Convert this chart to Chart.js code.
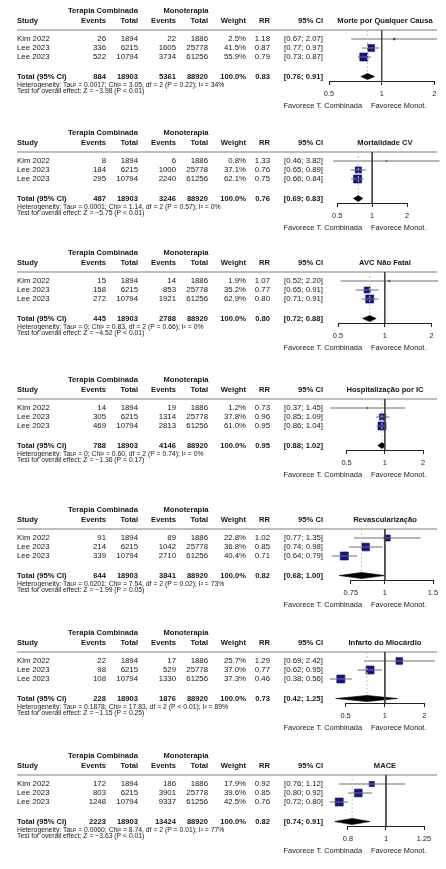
<!DOCTYPE html>
<html>
<head>
<meta charset="utf-8">
<script src="https://cdn.jsdelivr.net/npm/chart.js@4.4.1/dist/chart.umd.min.js"></script>
<style>
  html, body { margin: 0; padding: 0; background: #fff; }
  #page { position: relative; width: 446px; height: 869px; overflow: hidden; }
  canvas { position: absolute; left: 0; }
</style>
</head>
<body>
<div id="page"></div>
<script>
// ---- study table ----
const studies = ['Kim 2022', 'Lee 2023', 'Lee 2023'];
const comboTotals = [1894, 6215, 10794];
const monoTotals = [1886, 25778, 61256];
const groupLabels = ['Terapia Combinada', 'Monoterapia'];
const columnLabels = ['Study', 'Events', 'Total', 'Events', 'Total', 'Weight', 'RR', '95% CI'];
const totalLabel = 'Total (95% CI)';
const favourLabels = ['Favorece T. Combinada', 'Favorece Monot.'];

// ---- outcomes ----
const outcomes = ['Morte por Qualquer Causa', 'Mortalidade CV', 'AVC Não Fatal', 'Hospitalização por IC',
                  'Revascularização', 'Infarto do Miocárdio', 'MACE'];
const comboEvents = [[26, 336, 522], [8, 184, 295], [15, 158, 272], [14, 305, 469],
                     [91, 214, 339], [22, 98, 108], [172, 803, 1248]];
const monoEvents = [[22, 1605, 3734], [6, 1000, 2240], [14, 853, 1921], [19, 1314, 2813],
                    [89, 1042, 2710], [17, 529, 1330], [186, 3901, 9337]];
const weights = [[2.5, 41.5, 55.9], [0.8, 37.1, 62.1], [1.9, 35.2, 62.9], [1.2, 37.8, 61.0],
                 [22.8, 36.8, 40.4], [25.7, 37.0, 37.3], [17.9, 39.6, 42.5]];
const riskRatios = [[1.18, 0.87, 0.79], [1.33, 0.76, 0.75], [1.07, 0.77, 0.80], [0.73, 0.96, 0.95],
                    [1.02, 0.85, 0.71], [1.29, 0.77, 0.46], [0.92, 0.85, 0.76]];
const ciLower = [[0.67, 0.77, 0.73], [0.46, 0.65, 0.66], [0.52, 0.65, 0.71], [0.37, 0.85, 0.86],
                 [0.77, 0.74, 0.64], [0.69, 0.62, 0.38], [0.76, 0.80, 0.72]];
const ciUpper = [[2.07, 0.97, 0.87], [3.82, 0.89, 0.84], [2.20, 0.91, 0.91], [1.45, 1.09, 1.04],
                 [1.35, 0.98, 0.79], [2.42, 0.95, 0.56], [1.12, 0.92, 0.80]];
const pooledRR = [0.83, 0.76, 0.80, 0.95, 0.82, 0.73, 0.82];
const pooledLower = [0.76, 0.69, 0.72, 0.88, 0.68, 0.42, 0.74];
const pooledUpper = [0.91, 0.83, 0.88, 1.02, 1.00, 1.25, 0.91];
const tau2 = ['0.0017', '0.0001', '0', '0', '0.0201', '0.1878', '0.0060'];
const chi2 = ['3.05', '1.14', '0.83', '0.60', '7.54', '17.83', '8.74'];
const hetP = ['= 0.22', '= 0.57', '= 0.66', '= 0.74', '= 0.02', '< 0.01', '= 0.01'];
const i2 = [34, 0, 0, 0, 73, 89, 77];
const zValues = ['3.98', '5.75', '4.52', '1.36', '1.99', '1.15', '3.63'];
const zP = ['< 0.01', '< 0.01', '< 0.01', '= 0.17', '= 0.05', '= 0.25', '< 0.01'];
const axisTicks = [[0.5, 1, 2], [0.5, 1, 2], [0.5, 1, 2], [0.5, 1, 2],
                   [0.75, 1, 1.5], [0.5, 1, 2], [0.8, 1, 1.25]];

// ---- layout ----
const FONT = "'Liberation Sans', Arial, Helvetica, sans-serif";
const W = 446, PANEL_H = 112;
const panelTop = [1, 123, 243, 370, 500, 623, 746];
const plotSpan = [[329, 437], [333, 441], [338, 438], [330, 423], [332, 433], [330, 435], [330, 424]];
const AREA_TOP = 29, AREA_BOTTOM = 80, AXIS_H = 15;
const ROW_PX = 9;
const Y_MAX = (AREA_BOTTOM - AREA_TOP) / ROW_PX;
const ROW = { group: -2.11, head: -1.0, total: 5.17, het: 6.11, test: 6.78, favour: 8.44 };
const COL = { study: 17, evC: 106, totC: 138, evM: 176, totM: 208, weight: 246, rr: 270, ci: 323,
              groupC: 103, groupM: 186, title: 385, favL: 362, favR: 371, ruleL: 17, ruleR: 437 };
const sum = a => a.reduce((s, v) => s + v, 0);

function text(ctx, s, x, y, align, bold, size, color) {
  ctx.font = (bold ? 'bold ' : '') + size + 'px ' + FONT;
  ctx.textAlign = align;
  ctx.textBaseline = 'middle';
  ctx.fillStyle = color || '#161616';
  ctx.fillText(s, x, y);
}
const ci = (lo, hi) => '[' + lo.toFixed(2) + '; ' + hi.toFixed(2) + ']';

// table columns, header rule and the bottom axis line of each forest plot
const forestTable = {
  id: 'forestTable',
  beforeDatasetsDraw(chart) {
    const ctx = chart.ctx, ys = chart.scales.y;
    ctx.save();
    ctx.strokeStyle = '#a8a8a8';
    ctx.lineWidth = 1.6;
    ctx.beginPath();
    const yr = ys.getPixelForValue(0);
    ctx.moveTo(COL.ruleL, yr); ctx.lineTo(COL.ruleR, yr);
    ctx.stroke();
    ctx.restore();
  },
  afterDraw(chart, args, opts) {
    const p = opts.panel, ctx = chart.ctx;
    const ys = chart.scales.y, xs = chart.scales.x;
    const y = v => ys.getPixelForValue(v);
    ctx.save();
    // axis line between the outer ticks
    const t = axisTicks[p];
    ctx.strokeStyle = '#222';
    ctx.lineWidth = 1;
    ctx.beginPath();
    ctx.moveTo(xs.getPixelForValue(t[0]), chart.chartArea.bottom + 0.5);
    ctx.lineTo(xs.getPixelForValue(t[t.length - 1]), chart.chartArea.bottom + 0.5);
    ctx.stroke();

    const HS = 7.6, BS = 7.8, FS = 6.8;
    text(ctx, groupLabels[0], COL.groupC, y(ROW.group), 'center', true, HS);
    text(ctx, groupLabels[1], COL.groupM, y(ROW.group), 'center', true, HS);
    const hx = [COL.study, COL.evC, COL.totC, COL.evM, COL.totM, COL.weight, COL.rr, COL.ci];
    columnLabels.forEach((s, i) => text(ctx, s, hx[i], y(ROW.head), i === 0 ? 'left' : 'right', true, HS));
    text(ctx, outcomes[p], COL.title, y(ROW.head), 'center', true, HS);

    studies.forEach((s, i) => {
      const yy = y(i + 1);
      text(ctx, s, COL.study, yy, 'left', false, BS);
      text(ctx, String(comboEvents[p][i]), COL.evC, yy, 'right', false, BS);
      text(ctx, String(comboTotals[i]), COL.totC, yy, 'right', false, BS);
      text(ctx, String(monoEvents[p][i]), COL.evM, yy, 'right', false, BS);
      text(ctx, String(monoTotals[i]), COL.totM, yy, 'right', false, BS);
      text(ctx, weights[p][i].toFixed(1) + '%', COL.weight, yy, 'right', false, BS);
      text(ctx, riskRatios[p][i].toFixed(2), COL.rr, yy, 'right', false, BS);
      text(ctx, ci(ciLower[p][i], ciUpper[p][i]), COL.ci, yy, 'right', false, BS);
    });

    const yt = y(ROW.total);
    text(ctx, totalLabel, COL.study, yt, 'left', true, HS);
    text(ctx, String(sum(comboEvents[p])), COL.evC, yt, 'right', true, HS);
    text(ctx, String(sum(comboTotals)), COL.totC, yt, 'right', true, HS);
    text(ctx, String(sum(monoEvents[p])), COL.evM, yt, 'right', true, HS);
    text(ctx, String(sum(monoTotals)), COL.totM, yt, 'right', true, HS);
    text(ctx, '100.0%', COL.weight, yt, 'right', true, HS);
    text(ctx, pooledRR[p].toFixed(2), COL.rr, yt, 'right', true, HS);
    text(ctx, ci(pooledLower[p], pooledUpper[p]), COL.ci, yt, 'right', true, HS);

    text(ctx, 'Heterogeneity: Tau\u00b2 = ' + tau2[p] + '; Chi\u00b2 = ' + chi2[p] + ', df = 2 (P ' + hetP[p] +
         '); I\u00b2 = ' + i2[p] + '%', COL.study, y(ROW.het), 'left', false, FS);
    text(ctx, 'Test for overall effect: Z = \u2212' + zValues[p] + ' (P ' + zP[p] + ')',
         COL.study, y(ROW.test), 'left', false, FS);

    text(ctx, favourLabels[0], COL.favL, y(ROW.favour), 'right', false, 7.4);
    text(ctx, favourLabels[1], COL.favR, y(ROW.favour), 'left', false, 7.4);
    ctx.restore();
  }
};

const page = document.getElementById('page');

outcomes.forEach((title, p) => {
  const canvas = document.createElement('canvas');
  canvas.width = W; canvas.height = PANEL_H;
  canvas.style.top = panelTop[p] + 'px';
  canvas.style.width = W + 'px';
  canvas.style.height = PANEL_H + 'px';
  page.appendChild(canvas);

  const ticks = axisTicks[p];
  const xMin = Math.min(...ciLower[p], pooledLower[p], ...ticks);
  const xMax = Math.max(...ciUpper[p], pooledUpper[p], ...ticks);
  const wMax = Math.max(...weights[p]);
  const T = ROW.total, H = 0.34;

  const ciSets = studies.map((s, i) => ({
    type: 'line',
    data: [{ x: ciLower[p][i], y: i + 1 }, { x: ciUpper[p][i], y: i + 1 }],
    borderColor: '#6e6e6e', borderWidth: 1, pointRadius: 0, fill: false
  }));

  new Chart(canvas, {
    type: 'scatter',
    data: {
      datasets: [
        { // line of no effect
          type: 'line',
          data: [{ x: 1, y: 0 }, { x: 1, y: Y_MAX }],
          borderColor: '#444', borderWidth: 1, pointRadius: 0, fill: false
        },
        { // pooled estimate
          type: 'line',
          data: [{ x: pooledRR[p], y: 0 }, { x: pooledRR[p], y: T - H }],
          borderColor: '#c4c4c4', borderWidth: 1, borderDash: [2, 2], pointRadius: 0, fill: false
        },
        ...ciSets,
        { // study estimates, square area proportional to weight
          type: 'scatter',
          data: riskRatios[p].map((v, i) => ({ x: v, y: i + 1 })),
          pointStyle: 'rect',
          pointRadius: c => 8 * Math.sqrt(weights[p][c.dataIndex] / wMax) / Math.SQRT2,
          backgroundColor: '#16168a',
          borderColor: '#0b0b5a',
          borderWidth: 0.6
        },
        { // pooled diamond
          type: 'line',
          data: [{ x: pooledLower[p], y: T }, { x: pooledRR[p], y: T - H }, { x: pooledUpper[p], y: T },
                 { x: pooledRR[p], y: T + H }, { x: pooledLower[p], y: T }],
          borderColor: '#000', borderWidth: 0.6, pointRadius: 0,
          backgroundColor: '#000', fill: 'shape'
        }
      ]
    },
    options: {
      responsive: false,
      devicePixelRatio: 1,
      animation: false,
      events: [],
      layout: { padding: { left: plotSpan[p][0], right: W - plotSpan[p][1], top: AREA_TOP,
                           bottom: PANEL_H - AREA_BOTTOM - AXIS_H } },
      plugins: { legend: { display: false }, tooltip: { enabled: false }, forestTable: { panel: p } },
      scales: {
        x: {
          type: 'logarithmic',
          position: 'bottom',
          min: xMin, max: xMax,
          border: { display: false },
          grid: { drawOnChartArea: false, drawTicks: true, tickLength: 4, color: '#222', lineWidth: 1 },
          ticks: {
            autoSkip: false, maxRotation: 0, padding: 5,
            color: '#222', font: { family: FONT, size: 7.4 },
            callback: v => String(v)
          },
          afterBuildTicks: s => { s.ticks = ticks.map(v => ({ value: v })); },
          afterFit: s => { s.height = AXIS_H; }
        },
        y: { type: 'linear', min: 0, max: Y_MAX, reverse: true, display: false }
      }
    },
    plugins: [forestTable]
  });
});
</script>
</body>
</html>
